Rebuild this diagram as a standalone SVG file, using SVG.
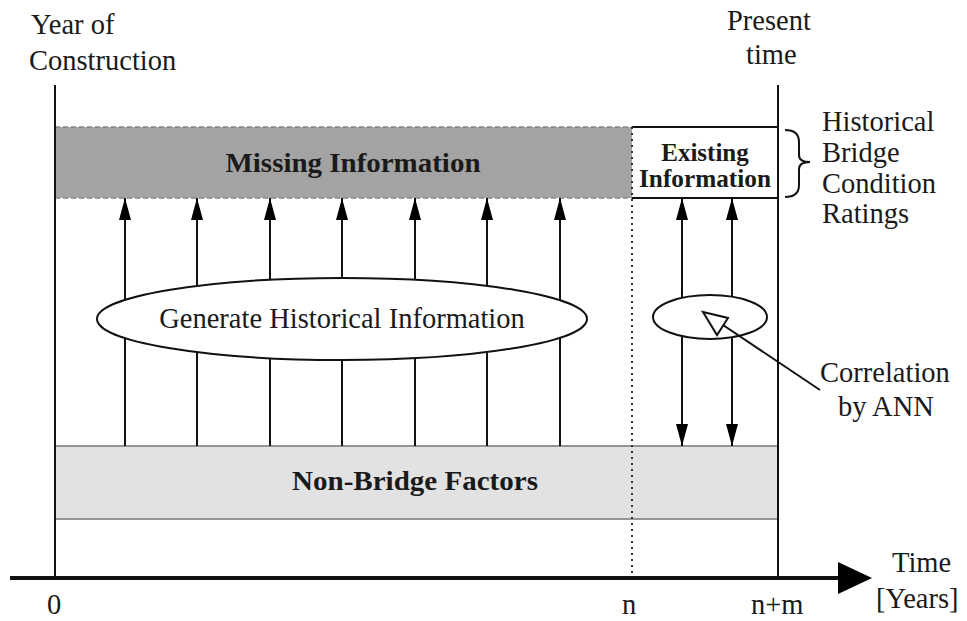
<svg xmlns="http://www.w3.org/2000/svg" width="967" height="621" viewBox="0 0 967 621">
<defs>
<style>
text{font-family:"Liberation Serif","Times New Roman",serif;fill:#1a1a1a}
.lbl{font-size:28.5px}
.b{font-weight:bold}
.ln{stroke:#111;stroke-width:2;fill:none}
</style>
<marker id="ah" viewBox="0 0 22 12" refX="22" refY="6" markerWidth="22" markerHeight="12" markerUnits="userSpaceOnUse" orient="auto">
<path d="M0,0 L22,6 L0,12 z" fill="#000"/>
</marker>
</defs>
<rect width="967" height="621" fill="#fff"/>
<g id="missing">
<rect x="55" y="127" width="577" height="71" fill="#a3a3a3"/>
<line x1="55" y1="127" x2="632" y2="127" stroke="#888" stroke-width="1.5" stroke-dasharray="5,3"/>
<line x1="55" y1="198" x2="632" y2="198" stroke="#888" stroke-width="1.5" stroke-dasharray="5,3"/>
<text x="353" y="172" text-anchor="middle" class="b" font-size="27" textLength="255" lengthAdjust="spacingAndGlyphs">Missing Information</text>
</g>
<g id="existing">
<rect x="632" y="127" width="146" height="71" fill="#fff"/>
<path d="M632,127 H778 M632,198 H778" class="ln"/>
<text x="705" y="161" text-anchor="middle" class="b" font-size="25">Existing</text>
<text x="705" y="187" text-anchor="middle" class="b" font-size="25" textLength="132" lengthAdjust="spacingAndGlyphs">Information</text>
</g>
<g id="nonbridge">
<rect x="55" y="446" width="723" height="73" fill="#e2e2e2" stroke="#777" stroke-width="1.5"/>
<text x="415" y="490" text-anchor="middle" class="b" font-size="28" textLength="246" lengthAdjust="spacingAndGlyphs">Non-Bridge Factors</text>
</g>
<g id="connectors">
<line x1="125" y1="446" x2="125" y2="198" class="ln" marker-end="url(#ah)"/>
<line x1="197" y1="446" x2="197" y2="198" class="ln" marker-end="url(#ah)"/>
<line x1="270" y1="446" x2="270" y2="198" class="ln" marker-end="url(#ah)"/>
<line x1="342" y1="446" x2="342" y2="198" class="ln" marker-end="url(#ah)"/>
<line x1="415" y1="446" x2="415" y2="198" class="ln" marker-end="url(#ah)"/>
<line x1="487" y1="446" x2="487" y2="198" class="ln" marker-end="url(#ah)"/>
<line x1="560" y1="446" x2="560" y2="198" class="ln" marker-end="url(#ah)"/>
<line x1="682" y1="320" x2="682" y2="198" class="ln" marker-end="url(#ah)"/>
<line x1="732" y1="320" x2="732" y2="198" class="ln" marker-end="url(#ah)"/>
<line x1="682" y1="320" x2="682" y2="446" class="ln" marker-end="url(#ah)"/>
<line x1="732" y1="320" x2="732" y2="446" class="ln" marker-end="url(#ah)"/>
</g>
<g id="generate">
<ellipse cx="342" cy="319" rx="245" ry="41" fill="#fff" stroke="#111" stroke-width="2"/>
<text x="342" y="328" text-anchor="middle" class="lbl">Generate Historical Information</text>
</g>
<g id="ann">
<ellipse cx="710" cy="317" rx="57" ry="22" fill="#fff" stroke="#111" stroke-width="2"/>
<line x1="820" y1="390" x2="720" y2="323" class="ln"/>
<path d="M703,312 L728,318 L717,335 z" fill="#fff" stroke="#111" stroke-width="2"/>
<text x="820" y="382" class="lbl">Correlation</text>
<text x="838" y="416" class="lbl">by ANN</text>
</g>
<g id="axes">
<line x1="55" y1="85" x2="55" y2="578" class="ln"/>
<line x1="778" y1="85" x2="778" y2="578" class="ln"/>
<line x1="632" y1="127" x2="632" y2="578" stroke="#333" stroke-width="2" stroke-dasharray="2,4"/>
<line x1="10" y1="578" x2="842" y2="578" stroke="#111" stroke-width="4"/>
<path d="M838,562 L872,578 L838,594 z" fill="#000"/>
</g>
<g id="brace">
<path d="M785,130 Q799,130 799,142 V155 Q799,162 810,162 Q799,162 799,169 V185 Q799,197 785,197" class="ln"/>
</g>
<g id="labels">
<text x="31" y="34" class="lbl">Year of</text>
<text x="29" y="70" class="lbl">Construction</text>
<text x="727" y="30" class="lbl">Present</text>
<text x="746" y="64" class="lbl">time</text>
<text x="822" y="131" class="lbl">Historical</text>
<text x="822" y="162" class="lbl">Bridge</text>
<text x="822" y="193" class="lbl">Condition</text>
<text x="822" y="223" class="lbl">Ratings</text>
<text x="47" y="614" class="lbl">0</text>
<text x="622" y="614" class="lbl">n</text>
<text x="751" y="614" class="lbl">n+m</text>
<text x="892" y="572" class="lbl">Time</text>
<text x="876" y="608" class="lbl">[Years]</text>
</g>
</svg>
